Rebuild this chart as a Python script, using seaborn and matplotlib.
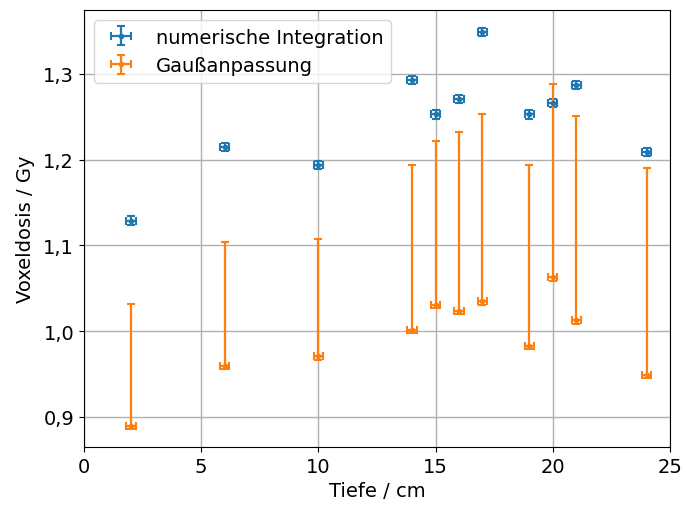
import numpy as np
import pandas as pd
import matplotlib
matplotlib.use("Agg")
import matplotlib.pyplot as plt
import seaborn as sns
from matplotlib.ticker import FuncFormatter

# Tiefe in cm
tiefe = [2, 6, 10, 14, 15, 16, 17, 19, 20, 21, 24]
tiefe_err = [0.2] * 11

# numerische Integration
dosis_num = [1.129, 1.215, 1.194, 1.293, 1.253, 1.271, 1.349, 1.253, 1.266, 1.287, 1.209]
dosis_num_err = [0.005] * 11

# Gaussanpassung (asymmetrische Fehler)
dosis_gauss = [0.890, 0.960, 0.971, 1.002, 1.031, 1.024, 1.035, 0.983, 1.063, 1.013, 0.949]
gauss_err_unten = [0.004] * 11
gauss_err_oben = [0.142, 0.144, 0.137, 0.192, 0.191, 0.208, 0.218, 0.211, 0.225, 0.238, 0.241]

df = pd.DataFrame({'Tiefe': tiefe, 'num': dosis_num, 'gauss': dosis_gauss})

sns.set_theme(style="ticks", rc={
    'text.color': 'black', 'axes.labelcolor': 'black',
    'xtick.color': 'black', 'ytick.color': 'black',
    'axes.edgecolor': 'black', 'axes.linewidth': 0.8,
    'xtick.major.width': 0.8, 'ytick.major.width': 0.8,
    'xtick.major.size': 3.5, 'ytick.major.size': 3.5,
    'legend.edgecolor': '0.8', 'legend.fancybox': True, 'legend.framealpha': 0.8,
})
plt.rcParams['font.family'] = ['DejaVu Sans']
plt.rcParams['font.size'] = 14
colors = sns.color_palette("tab10")

fig, ax = plt.subplots(figsize=(6.86, 5.10), dpi=100)
fig.subplots_adjust(left=0.1224, right=0.9767, top=0.9784, bottom=0.1216)

ax.errorbar(df['Tiefe'], df['num'], xerr=tiefe_err, yerr=dosis_num_err,
            fmt='.', color=colors[0], capsize=3, elinewidth=1.6, capthick=1.5,
            markersize=6, label='numerische Integration')
ax.errorbar(df['Tiefe'], df['gauss'], xerr=tiefe_err,
            yerr=[gauss_err_unten, gauss_err_oben],
            fmt='.', color=colors[1], capsize=3, elinewidth=1.6, capthick=1.5,
            markersize=6, label='Gaußanpassung')

ax.set_xlim(0, 25)
ax.set_ylim(0.865, 1.3746)
ax.set_xticks([0, 5, 10, 15, 20, 25])
ax.set_yticks([0.9, 1.0, 1.1, 1.2, 1.3])
ax.yaxis.set_major_formatter(FuncFormatter(lambda v, p: f'{v:.1f}'.replace('.', ',')))
ax.tick_params(labelsize=14, direction='out')
ax.grid(True, color='#b0b0b0', linewidth=1.0)
ax.set_axisbelow(True)
ax.set_xlabel('Tiefe / cm', fontsize=14)
ax.set_ylabel('Voxeldosis / Gy', fontsize=14, labelpad=6)
ax.legend(loc='upper left', fontsize=14, frameon=True, borderpad=0.4)

fig.savefig('out.png', dpi=100)
